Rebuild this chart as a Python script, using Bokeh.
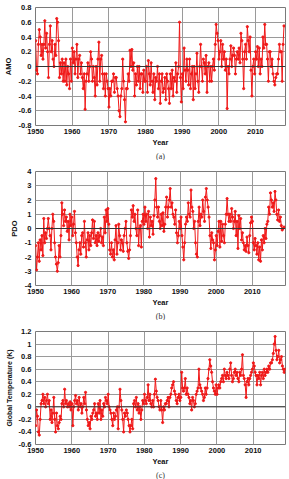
from bokeh.plotting import figure
from bokeh.layouts import column
from bokeh.models import FixedTicker, Span, Title
from bokeh.embed import file_html
from bokeh.resources import INLINE

# quarterly values
amo_years = list(range(1950, 2018))
amo = [
    0.35, -0.05, -0.1, 0.3,   0.5, 0.4, 0.15, 0.3,   0.1, 0.3, 0.62, 0.25,   0.45, 0.2, -0.15, 0.3,
    0.55, 0.2, 0.35, 0.1,   0.0, 0.3, 0.15, 0.65,   0.6, 0.35, -0.15, 0.05,   -0.1, 0.1, -0.2, 0.05,
    -0.2, 0.1, -0.25, 0.0,   -0.1, -0.3, 0.1, -0.2,   0.25, 0.05, 0.2, -0.1,   0.1, 0.3, -0.15, 0.1,
    0.15, -0.1, 0.05, -0.15,   -0.3, -0.1, -0.58, -0.2,   -0.1, 0.05, -0.2, 0.0,   0.2, 0.1, -0.2, 0.0,
    -0.15, -0.4, 0.0, -0.25,   0.1, 0.33, -0.2, 0.1,   0.15, -0.1, -0.3, -0.1,   -0.4, -0.1, -0.2, -0.3,
    -0.55, -0.3, -0.4, -0.2,   -0.2, -0.1, -0.35, -0.15,   -0.15, -0.3, -0.4, -0.6,   -0.68, -0.4, -0.3, 0.1,
    -0.2, -0.45, -0.75, -0.3,   -0.3, -0.1, -0.2, 0.22,   0.0, 0.23, -0.05, 0.05,   -0.4, -0.1, -0.25, 0.0,
    -0.2, 0.0, -0.3, -0.1,   -0.1, -0.35, -0.05, -0.2,   -0.2, 0.0, -0.35, 0.08,   -0.1, -0.25, 0.05, -0.2,
    -0.35, -0.1, -0.45, -0.15,   -0.2, 0.0, -0.3, -0.1,   -0.5, -0.2, -0.1, -0.35,   -0.3, -0.15, -0.45, -0.1,
    -0.2, -0.3, -0.5, -0.1,   -0.3, -0.05, -0.4, -0.15,   -0.2, 0.05, -0.35, -0.1,   0.0, 0.6, -0.15, -0.48,
    -0.1, -0.3, 0.25, -0.05,   -0.2, 0.1, -0.05, -0.25,   0.1, -0.3, -0.1, 0.0,   -0.45, 0.0, -0.3, -0.1,
    0.18, -0.2, -0.35, 0.0,   0.3, 0.0, -0.2, 0.1,   0.05, -0.1, 0.15, -0.35,   0.0, 0.05, -0.2, 0.0,
    -0.2, 0.0, 0.1, -0.05,   0.3, 0.57, 0.45, 0.35,   0.1, 0.2, 0.35, 0.0,   0.3, 0.1, 0.2, -0.05,
    0.1, -0.57, 0.0, -0.1,   0.1, 0.28, 0.0, 0.15,   0.25, 0.15, -0.1, 0.1,   0.2, 0.1, 0.25, 0.05,
    0.45, 0.35, 0.1, -0.3,   0.2, 0.3, 0.1, 0.54,   0.35, 0.2, 0.4, -0.05,   -0.4, 0.0, 0.1, -0.1,
    0.2, 0.1, 0.27, 0.0,   0.25, -0.1, 0.1, 0.0,   0.4, 0.25, 0.57, 0.3,   0.3, 0.1, -0.2, 0.2,
    0.2, 0.0, 0.1, -0.1,   -0.2, -0.25, -0.15, -0.1,   -0.1, 0.1, 0.3, 0.2,   0.2, -0.2, 0.3, 0.55,
]

pdo_years = list(range(1950, 2019))
pdo = [
    -1.2, -2.9, -2.0, -1.0,   -2.3, -0.8, -1.5, -0.5,   -1.9, 0.7, -1.0, -0.3,   -0.7, 0.0, 0.7, 0.0,
    -0.5, -1.5, 0.0, 1.0,   0.5, -1.0, -2.0, -2.5,   -3.0, -2.4, -1.2, -2.0,   -0.5, 1.8, 1.0, 0.2,
    1.3, 0.5, 0.8, -0.2,   0.5, -0.8, 1.0, 0.2,   0.8, -0.5, 0.3, 1.2,   -0.3, -1.0, -2.0, -2.6,
    -1.5, -1.0, -1.8, -0.5,   -0.3, -1.3, 0.5, -1.0,   -2.0, -0.8, -0.3, -1.5,   -0.5, -1.2, -0.3, 0.6,
    -0.7, 0.5, -1.0, -0.5,   -1.2, -0.3, -0.9, -0.5,   0.0, -1.0, -0.6, -1.2,   0.8, -0.3, 1.3, 0.5,
    1.4, 0.3, -1.5, -1.8,   -1.0, -2.0, -1.5, -2.2,   -0.8, 0.2, -1.8, -1.0,   0.3, -0.5, -1.5, -0.8,
    -1.0, -1.6, -0.5, 0.0,   0.5, -1.0, -1.6, -2.1,   -1.5, -0.5, 1.3, 0.8,   1.6, 0.5, 1.0, 0.0,
    -0.5, 1.3, -1.2, 0.0,   0.2, -1.3, 0.5, 1.0,   0.3, 1.5, 0.5, 1.0,   0.0, 1.2, -0.6, 0.8,
    0.2, 0.5, -0.4, 0.9,   2.0, 3.5, 1.5, 0.8,   1.5, 0.5, 0.0, 1.0,   0.2, 1.1, -0.2, 0.3,
    1.5, 2.2, 0.8, 1.5,   2.0, 2.8, 1.5, 1.8,   1.0, 0.8, 0.3, 1.3,   -0.3, -1.0, -0.5, 0.5,
    0.0, 0.8, -0.5, -1.3,   -2.2, -1.0, 0.3, 0.8,   0.5, 1.8, 1.0, 0.8,   2.7, 1.5, 1.2, 0.0,
    0.5, -1.0, -1.8, -2.0,   0.5, 1.5, 0.2, 1.0,   0.8, 2.0, 1.2, 0.5,   2.2, 2.8, 2.0, 1.5,
    0.8, -0.5, -1.4, -0.3,   -0.8, -1.0, -2.2, -1.5,   -0.5, -1.2, -0.2, 0.5,   -1.3, 0.5, -0.9, 0.3,
    -0.5, -1.0, 0.3, 1.0,   2.1, 1.0, 0.5, 1.0,   0.5, 1.4, 0.8, 0.0,   0.5, 1.2, -0.5, 0.5,
    -1.4, 0.9, 0.0, 0.7,   -0.8, -0.3, -1.0, -1.5,   -1.2, -1.6, -0.6, -1.2,   -1.7, -0.5, 0.4, 0.8,
    0.5, -1.0, -1.5, -0.7,   -1.2, -1.8, -1.0, -2.2,   -1.3, -2.3, -0.8, -1.5,   -0.5, -1.0, 0.0, -0.7,
    0.3, 0.5, 1.5, 1.0,   2.5, 2.0, 1.5, 1.8,   1.2, 2.6, 2.0, 1.0,   0.6, 1.3, 0.5, 0.8,
    0.2, -0.1, 0.0, 0.1,
]

gt_years = list(range(1950, 2019))
gt = [
    -0.3, -0.05, -0.15, -0.4,   -0.45, -0.2, 0.05, 0.1,   0.2, 0.05, 0.15, 0.0,   0.1, 0.2, 0.05, 0.1,
    -0.2, -0.05, -0.25, -0.1,   0.15, -0.2, -0.4, -0.1,   -0.3, -0.35, -0.25, -0.15,   -0.2, 0.05, 0.1, 0.0,
    0.28, 0.05, 0.1, 0.0,   0.05, 0.0, 0.08, -0.05,   0.05, -0.3, 0.0, 0.1,   0.18, 0.05, 0.1, -0.05,
    0.15, 0.0, 0.05, -0.1,   0.0, 0.15, 0.05, 0.23,   -0.05, -0.2, -0.3, -0.25,   -0.35, -0.15, -0.2, -0.1,
    -0.05, 0.05, -0.15, -0.1,   -0.2, 0.05, -0.1, 0.1,   -0.2, -0.05, -0.15, 0.05,   0.0, 0.15, 0.1, 0.05,
    0.2, 0.0, -0.05, -0.1,   -0.2, -0.3, -0.1, -0.2,   -0.15, -0.05, 0.0, -0.35,   0.0, 0.28, 0.1, -0.05,
    -0.2, -0.4, -0.1, -0.15,   -0.05, -0.1, -0.2, -0.3,   -0.4, -0.3, -0.2, -0.35,   0.05, 0.1, 0.0, 0.15,
    -0.05, 0.05, -0.1, 0.0,   -0.2, -0.05, 0.1, 0.05,   0.2, 0.1, 0.05, 0.15,   0.35, 0.1, 0.2, 0.05,
    0.0, 0.1, 0.0, 0.2,   0.44, 0.25, 0.15, 0.1,   0.0, -0.05, 0.1, -0.05,   -0.25, 0.0, -0.05, 0.05,
    0.05, 0.1, 0.15, 0.0,   0.15, 0.2, 0.3, 0.35,   0.4, 0.25, 0.2, 0.1,   0.05, 0.15, 0.2, 0.1,
    0.15, 0.55, 0.3, 0.25,   0.3, 0.45, 0.2, 0.3,   0.2, 0.15, 0.05, 0.1,   -0.05, 0.15, 0.1, 0.0,
    0.05, 0.2, 0.25, 0.3,   0.6, 0.35, 0.3, 0.25,   0.2, 0.1, 0.15, 0.3,   0.2, 0.3, 0.45, 0.6,
    0.75, 0.65, 0.55, 0.4,   0.3, 0.25, 0.2, 0.35,   0.2, 0.3, 0.35, 0.3,   0.4, 0.45, 0.5, 0.4,
    0.6, 0.5, 0.45, 0.55,   0.5, 0.45, 0.6, 0.7,   0.5, 0.4, 0.45, 0.55,   0.6, 0.5, 0.55, 0.45,
    0.4, 0.55, 0.5, 0.6,   0.83, 0.5, 0.45, 0.35,   0.15, 0.4, 0.45, 0.35,   0.45, 0.5, 0.55, 0.6,
    0.7, 0.65, 0.55, 0.5,   0.35, 0.5, 0.45, 0.55,   0.35, 0.5, 0.55, 0.45,   0.6, 0.5, 0.55, 0.6,
    0.55, 0.65, 0.6, 0.7,   0.7, 0.75, 0.85, 1.0,   1.12, 0.9, 0.75, 0.8,   0.9, 0.7, 0.75, 0.8,
    0.65, 0.6, 0.55, 0.6,
]

x_ticks = [1950, 1960, 1970, 1980, 1990, 2000, 2010]
amo_ticks = [-0.8, -0.6, -0.4, -0.2, 0, 0.2, 0.4, 0.6, 0.8]
amo_labels = ["-0.8", "-0.6", "-0.4", "-0.2", "0", "0.2", "0.4", "0.6", "0.8"]
pdo_ticks = [-4, -3, -2, -1, 0, 1, 2, 3, 4]
pdo_labels = ["-4", "-3", "-2", "-1", "0", "1", "2", "3", "4"]
gt_ticks = [-0.6, -0.4, -0.2, 0, 0.2, 0.4, 0.6, 0.8, 1, 1.2]
gt_labels = ["-0.6", "-0.4", "-0.2", "0", "0.2", "0.4", "0.6", "0.8", "1", "1.2"]

RED = "#f01818"
FONT = "Liberation Sans"


def quarter_times(years):
    return [y + q / 4 + 0.04 for y in years for q in range(4)]


def panel(years, vals, ylab, ticks, labels, xend, h, left, top, bottom, cap, ylab_size="7.5px"):
    t = quarter_times(years)[: len(vals)]
    p = figure(width=289, height=h, x_range=(1950, xend), y_range=(ticks[0], ticks[-1]),
               output_backend="svg", toolbar_location=None,
               min_border_left=left, min_border_right=4, min_border_top=top,
               min_border_bottom=bottom)
    p.background_fill_color = "white"
    p.border_fill_color = "white"
    p.outline_line_color = "#7a7a7a"
    p.outline_line_width = 1

    p.xaxis.ticker = FixedTicker(ticks=x_ticks)
    p.yaxis.ticker = FixedTicker(ticks=ticks)
    p.yaxis.major_label_overrides = {tk: lb for tk, lb in zip(ticks, labels)}
    for ax in (p.xaxis, p.yaxis):
        ax.axis_line_color = None
        ax.major_tick_line_color = None
        ax.minor_tick_line_color = None
        ax.major_tick_out = 0
        ax.major_tick_in = 0
        ax.minor_tick_out = 0
        ax.minor_tick_in = 0
        ax.major_label_text_font = FONT
        ax.major_label_text_font_style = "bold"
        ax.major_label_text_font_size = "7.5px"
        ax.major_label_text_color = "#111111"
        ax.axis_label_text_font = FONT
        ax.axis_label_text_font_style = "bold"
        ax.axis_label_text_color = "#111111"
    p.xaxis.axis_label = "Year"
    p.xaxis.axis_label_text_font_size = "7.5px"
    p.xaxis.major_label_standoff = 3
    p.xaxis.axis_label_standoff = 1
    p.yaxis.axis_label = ylab
    p.yaxis.axis_label_text_font_size = ylab_size
    p.yaxis.major_label_standoff = 4
    p.yaxis.axis_label_standoff = 3

    p.xgrid.grid_line_color = "#9a9a9a"
    p.ygrid.grid_line_color = "#9a9a9a"
    p.grid.grid_line_width = 1

    p.add_layout(Span(location=0, dimension="width", line_color="#333333", line_width=1))

    p.line(t, vals, color=RED, line_width=1.0)
    p.scatter(t, vals, size=2.2, color=RED)

    p.add_layout(Title(text=cap, align="center", text_font="Liberation Serif",
                       text_font_size="8px", text_font_style="normal",
                       text_color="#333333", standoff=0, offset=0), "below")
    return p


pa = panel(amo_years, amo, "AMO", amo_ticks, amo_labels, 2018.2, 160, 29, 7, 34, "(a)")
pb = panel(pdo_years, pdo, "PDO", pdo_ticks, pdo_labels, 2019.2, 160, 21, 11, 35, "(b)")
pc = panel(gt_years, gt, "Global Temperature (K)", gt_ticks, gt_labels, 2018.9, 159, 27, 11, 33,
           "(c)", ylab_size="7px")

layout = column(pa, pb, pc, spacing=0)
open("out.html", "w").write(file_html(layout, INLINE))
